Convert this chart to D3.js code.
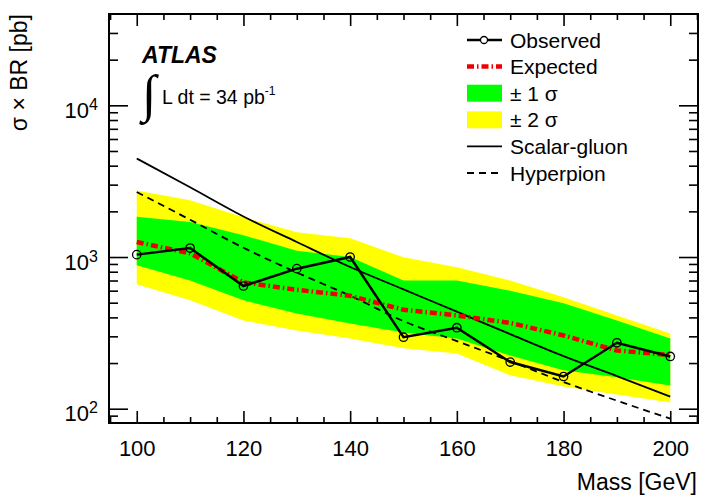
<!DOCTYPE html>
<html>
<head>
<meta charset="utf-8">
<script src="https://cdn.jsdelivr.net/npm/d3@7"></script>
<style>
  body { margin: 0; background: #fff; }
  svg { font-family: "Liberation Sans", Arial, Helvetica, sans-serif; }
</style>
</head>
<body>
<svg id="chart" width="705" height="497"></svg>
<script>
// values
const mass = [100, 110, 120, 130, 140, 150, 160, 170, 180, 190, 200];
const observed = [1037, 1146, 644, 838, 1000, 296, 342, 203, 163, 272, 221];
const expected = [1256, 1058, 681, 608, 555, 449, 412, 368, 304, 242, 226];
const sigma1Low = [881, 700, 518, 425, 365, 318, 290, 224, 179, 161, 142];
const sigma1High = [1840, 1700, 1390, 1100, 1000, 700, 700, 600, 495, 382, 290];
const sigma2Low = [661, 518, 382, 328, 290, 250, 231, 166, 140, 124, 110];
const sigma2High = [2750, 2370, 1830, 1456, 1330, 995, 855, 700, 542, 412, 313];
const scalarGluon = [4460, 2880, 1850, 1256, 859, 612, 436, 310, 222, 164, 120];
const hyperpion = [2685, 1761, 1151, 790, 556, 378, 279, 206, 150, 113, 86];

const xTicks = [100, 120, 140, 160, 180, 200];
const yTicks = [100, 1000, 10000];
const legendLabels = ["Observed", "Expected", "\u00b1 1 \u03c3", "\u00b1 2 \u03c3", "Scalar-gluon", "Hyperpion"];

// layout
const margin = {top: 14, right: 7, bottom: 74, left: 109};
const width = 705 - margin.left - margin.right;
const height = 497 - margin.top - margin.bottom;

const svg = d3.select('#chart');
const g = svg.append('g')
    .attr('transform', 'translate(' + margin.left + ',' + margin.top + ')');

const x = d3.scaleLinear().domain([94.8, 205.2]).range([0, width]);
const y = d3.scaleLog().domain([80.5, 40000]).range([height, 0]);

const rows = mass.map((m, i) => ({
  m: m, obs: observed[i], exp: expected[i],
  s1l: sigma1Low[i], s1h: sigma1High[i], s2l: sigma2Low[i], s2h: sigma2High[i],
  sg: scalarGluon[i], hp: hyperpion[i]
}));

// bands
g.append('path')
    .datum(rows)
    .attr('fill', '#ffff00')
    .attr('d', d3.area().x(d => x(d.m)).y0(d => y(d.s2l)).y1(d => y(d.s2h)));
g.append('path')
    .datum(rows)
    .attr('fill', '#00ff00')
    .attr('d', d3.area().x(d => x(d.m)).y0(d => y(d.s1l)).y1(d => y(d.s1h)));

// theory curves
const line = key => d3.line().curve(d3.curveMonotoneX).x(d => x(d.m)).y(d => y(d[key]));
g.append('path').datum(rows)
    .attr('fill', 'none').attr('stroke', '#000').attr('stroke-width', 1.8)
    .attr('d', line('sg'));
g.append('path').datum(rows)
    .attr('fill', 'none').attr('stroke', '#000').attr('stroke-width', 1.8)
    .attr('stroke-dasharray', '7,5')
    .attr('d', line('hp'));

// expected
g.append('path').datum(rows)
    .attr('fill', 'none').attr('stroke', '#ee0000').attr('stroke-width', 4.5)
    .attr('stroke-dasharray', '7,3,1.5,3')
    .attr('d', d3.line().x(d => x(d.m)).y(d => y(d.exp)));

// observed
g.append('path').datum(rows)
    .attr('fill', 'none').attr('stroke', '#000').attr('stroke-width', 2.5)
    .attr('d', d3.line().x(d => x(d.m)).y(d => y(d.obs)));
g.selectAll('circle.obs')
    .data(rows)
    .enter()
    .append('circle')
    .attr('class', 'obs')
    .attr('cx', d => x(d.m))
    .attr('cy', d => y(d.obs))
    .attr('r', 4.2)
    .attr('fill', 'none')
    .attr('stroke', '#000')
    .attr('stroke-width', 1.3);

// axes: inward ticks on all four sides
const minorX = d3.range(95, 206, 5).filter(v => xTicks.indexOf(v) < 0);
const minorY = [];
[10, 100, 1000, 10000].forEach(p => {
  for (let k = 2; k <= 9; k++) {
    const v = k * p;
    if (v > 80.5 && v < 40000) minorY.push(v);
  }
});

function styleAxis(sel) {
  sel.select('.domain').remove();
  sel.selectAll('line').attr('stroke', '#000').attr('stroke-width', 1.6);
}

const xAxis = g.append('g')
    .attr('transform', 'translate(0,' + height + ')')
    .call(d3.axisBottom(x).tickValues(xTicks).tickSize(-12).tickFormat(d3.format('d')));
styleAxis(xAxis);
xAxis.selectAll('text')
    .attr('y', 17)
    .attr('dy', '0.71em')
    .attr('fill', '#000')
    .style('font-size', '22px');
g.append('g')
    .attr('transform', 'translate(0,' + height + ')')
    .call(d3.axisBottom(x).tickValues(minorX).tickSize(-6).tickFormat(''))
    .call(styleAxis);
g.append('g')
    .call(d3.axisTop(x).tickValues(xTicks).tickSize(-12).tickFormat(''))
    .call(styleAxis);
g.append('g')
    .call(d3.axisTop(x).tickValues(minorX).tickSize(-6).tickFormat(''))
    .call(styleAxis);

const yAxis = g.append('g')
    .call(d3.axisLeft(y).tickValues(yTicks).tickSize(-19).tickFormat(''));
styleAxis(yAxis);
yAxis.selectAll('.tick').append('text')
    .attr('x', -11)
    .attr('y', 12)
    .attr('text-anchor', 'end')
    .attr('fill', '#000')
    .style('font-size', '22px')
    .each(function(d) {
      const t = d3.select(this);
      t.append('tspan').text('10');
      t.append('tspan').attr('dy', -8).style('font-size', '16px').text(Math.round(Math.log10(d)));
    });
g.append('g')
    .call(d3.axisLeft(y).tickValues(minorY).tickSize(-9).tickFormat(''))
    .call(styleAxis);
g.append('g')
    .attr('transform', 'translate(' + width + ',0)')
    .call(d3.axisRight(y).tickValues(yTicks).tickSize(-19).tickFormat(''))
    .call(styleAxis);
g.append('g')
    .attr('transform', 'translate(' + width + ',0)')
    .call(d3.axisRight(y).tickValues(minorY).tickSize(-9).tickFormat(''))
    .call(styleAxis);

// frame
g.append('rect')
    .attr('width', width).attr('height', height)
    .attr('fill', 'none').attr('stroke', '#000').attr('stroke-width', 2);

// axis titles
svg.append('text')
    .attr('x', 697).attr('y', 490)
    .attr('text-anchor', 'end')
    .style('font-size', '23px')
    .text('Mass [GeV]');
svg.append('text')
    .attr('transform', 'translate(27,14) rotate(-90)')
    .attr('text-anchor', 'end')
    .style('font-size', '23px')
    .text('\u03c3 \u00d7 BR [pb]');

// ATLAS label
svg.append('text')
    .attr('x', 142).attr('y', 63)
    .style('font-size', '23px')
    .style('font-weight', 'bold')
    .style('font-style', 'italic')
    .text('ATLAS');
svg.append('text')
    .attr('x', 142).attr('y', 111)
    .style('font-family', 'DejaVu Sans')
    .style('font-size', '52px')
    .style('font-weight', '300')
    .text('\u222b');
const lumi = svg.append('text')
    .attr('x', 162).attr('y', 104)
    .style('font-size', '19.5px');
lumi.append('tspan').text('L dt = 34 pb');
lumi.append('tspan').attr('dy', -9).style('font-size', '12px').text('-1');

// legend
const legend = svg.append('g').attr('transform', 'translate(467,40)');
const rowH = 26.6;
legendLabels.forEach((lab, i) => {
  const row = legend.append('g').attr('transform', 'translate(0,' + (i * rowH) + ')');
  if (i === 0) {
    row.append('line').attr('x1', 0).attr('x2', 35).attr('stroke', '#000').attr('stroke-width', 2.5);
    row.append('circle').attr('cx', 17).attr('r', 3.5).attr('fill', '#fff').attr('stroke', '#000').attr('stroke-width', 1.3);
  } else if (i === 1) {
    row.append('line').attr('x1', 0).attr('x2', 35).attr('stroke', '#ee0000').attr('stroke-width', 4.5)
        .attr('stroke-dasharray', '7,3,1.5,3');
  } else if (i === 2 || i === 3) {
    row.append('rect').attr('x', 0).attr('y', -8.5).attr('width', 35).attr('height', 17)
        .attr('fill', i === 2 ? '#00ff00' : '#ffff00');
  } else if (i === 4) {
    row.append('line').attr('x1', 0).attr('x2', 35).attr('stroke', '#000').attr('stroke-width', 1.8);
  } else {
    row.append('line').attr('x1', 0).attr('x2', 35).attr('stroke', '#000').attr('stroke-width', 1.8)
        .attr('stroke-dasharray', '7,5');
  }
  row.append('text')
      .attr('x', 43).attr('y', 7.5)
      .style('font-size', '21px')
      .text(lab);
});
</script>
</body>
</html>
